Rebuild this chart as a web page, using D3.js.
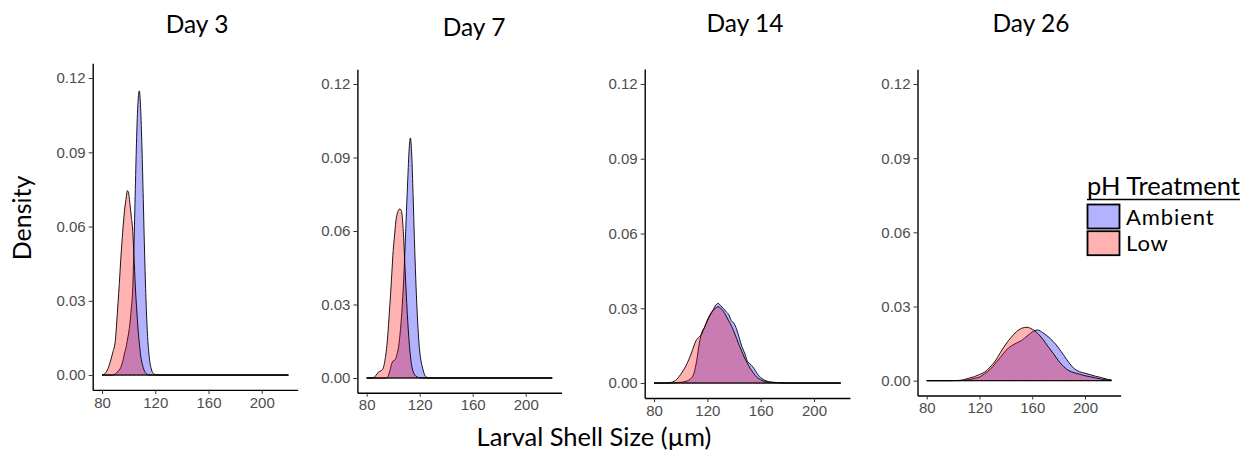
<!DOCTYPE html>
<html>
<head>
<meta charset="utf-8">
<script src="https://cdn.jsdelivr.net/npm/d3@7"></script>
<style>
  body { margin: 0; background: #fff; }
  svg { display: block; }
  .domain { stroke: #000; stroke-width: 1.4; }
  .lbl { font-family: Lato, "Open Sans", sans-serif; fill: #000; }
</style>
</head>
<body>
<div id="chart"></div>
<script>
// ---- data: density curves ----
const days = ["Day 3", "Day 7", "Day 14", "Day 26"];
const groups = ["Ambient", "Low"];
const xTicks = [80, 120, 160, 200];
const yTicks = [0, 0.03, 0.06, 0.09, 0.12];

const day3Size = [80, 82, 84, 86, 88, 90, 91, 92, 93, 94, 95, 96, 97, 98, 99, 100, 101, 102, 103, 104, 105, 106, 107, 108, 109, 110, 111, 112, 113, 114, 115, 116, 117, 118, 120, 124, 220];
const day3Ambient = [0, 0, 0, 0, 0, 0.0005, 0.001, 0.0015, 0.002, 0.003, 0.0045, 0.0065, 0.009, 0.011, 0.014, 0.017, 0.021, 0.027, 0.034, 0.052, 0.075, 0.096, 0.110, 0.1148, 0.108, 0.092, 0.071, 0.049, 0.031, 0.018, 0.010, 0.005, 0.0025, 0.001, 0.0002, 0, 0];
const day3Low = [0, 0.0005, 0.002, 0.005, 0.009, 0.014, 0.021, 0.029, 0.037, 0.046, 0.054, 0.061, 0.067, 0.071, 0.0745, 0.0735, 0.069, 0.064, 0.059, 0.048, 0.036, 0.027, 0.019, 0.013, 0.008, 0.005, 0.003, 0.0015, 0.0007, 0.0003, 0.0001, 0, 0, 0, 0, 0, 0];

const day7Size = [80, 84, 86, 88, 89, 90, 91, 92, 93, 94, 95, 96, 97, 98, 99, 100, 101, 102, 103, 104, 105, 106, 107, 108, 109, 110, 111, 112, 113, 114, 115, 116, 117, 118, 119, 120, 121, 122, 124, 126, 130, 220];
const day7Ambient = [0, 0, 0, 0, 0, 0, 0, 0, 0, 0, 0, 0.0005, 0.002, 0.004, 0.006, 0.007, 0.0073, 0.008, 0.010, 0.0125, 0.017, 0.023, 0.031, 0.041, 0.054, 0.068, 0.081, 0.093, 0.098, 0.091, 0.075, 0.057, 0.041, 0.028, 0.018, 0.011, 0.007, 0.0045, 0.001, 0.0002, 0, 0];
const day7Low = [0, 0, 0.0005, 0.0018, 0.0025, 0.0027, 0.003, 0.0035, 0.005, 0.008, 0.012, 0.018, 0.026, 0.034, 0.043, 0.052, 0.058, 0.064, 0.067, 0.0685, 0.069, 0.0685, 0.065, 0.056, 0.044, 0.033, 0.023, 0.015, 0.009, 0.005, 0.0027, 0.0015, 0.0008, 0.0004, 0.0002, 0.0001, 0, 0, 0, 0, 0, 0];

const day14Size = [80, 88, 92, 96, 100, 104, 108, 110, 112, 114, 116, 118, 120, 122, 124, 126, 128, 130, 132, 134, 136, 138, 140, 142, 144, 146, 148, 150, 152, 154, 156, 158, 160, 164, 168, 172, 180, 220];
const day14Ambient = [0, 0, 0, 0.0001, 0.0003, 0.0007, 0.002, 0.004, 0.009, 0.016, 0.0205, 0.0225, 0.025, 0.027, 0.029, 0.031, 0.032, 0.031, 0.030, 0.0287, 0.0275, 0.025, 0.024, 0.0215, 0.018, 0.0145, 0.012, 0.0088, 0.0077, 0.0066, 0.005, 0.0033, 0.0022, 0.0009, 0.0004, 0.0002, 0, 0];
const day14Low = [0, 0, 0.0002, 0.001, 0.0035, 0.007, 0.012, 0.015, 0.0175, 0.0185, 0.020, 0.0225, 0.0253, 0.0275, 0.029, 0.030, 0.0306, 0.030, 0.0288, 0.027, 0.025, 0.023, 0.0205, 0.0178, 0.015, 0.0125, 0.010, 0.008, 0.006, 0.0045, 0.003, 0.002, 0.0013, 0.0005, 0.0002, 0.0001, 0, 0];

const day26Size = [80, 96, 104, 108, 112, 116, 120, 124, 128, 132, 136, 140, 144, 148, 152, 156, 160, 164, 168, 172, 176, 180, 184, 188, 192, 196, 200, 204, 208, 212, 216, 220];
const day26Ambient = [0, 0, 0, 0.0001, 0.0004, 0.0009, 0.0015, 0.0028, 0.0045, 0.007, 0.0095, 0.0122, 0.014, 0.0152, 0.0163, 0.018, 0.0197, 0.0205, 0.0194, 0.0178, 0.0158, 0.0132, 0.0102, 0.0072, 0.0048, 0.0036, 0.003, 0.0024, 0.0018, 0.0013, 0.0007, 0.0003];
const day26Low = [0, 0, 0.0001, 0.0004, 0.001, 0.0016, 0.0025, 0.0035, 0.0055, 0.008, 0.0115, 0.0148, 0.0175, 0.0198, 0.0212, 0.0216, 0.0208, 0.0192, 0.0168, 0.0138, 0.011, 0.008, 0.0056, 0.004, 0.0032, 0.0026, 0.002, 0.0016, 0.0011, 0.0007, 0.0003, 0.0001];

// ---- layout (each facet sits a bit differently in the original) ----
const W = 1252, H = 455;
const boxes = [
  { left: 92.7, right: 297.7, top: 63.2, bottom: 389.9, tx: 197, ty: 33 },
  { left: 357.4, right: 561.5, top: 69.3, bottom: 392.7, tx: 474, ty: 36 },
  { left: 644.7, right: 850, top: 69, bottom: 398, tx: 745, ty: 32 },
  { left: 917.5, right: 1120.6, top: 69.2, bottom: 395.5, tx: 1031, ty: 32 }
];
const fills = { Ambient: "blue", Low: "red" };

const panels = [
  { size: day3Size, Ambient: day3Ambient, Low: day3Low },
  { size: day7Size, Ambient: day7Ambient, Low: day7Low },
  { size: day14Size, Ambient: day14Ambient, Low: day14Low },
  { size: day26Size, Ambient: day26Ambient, Low: day26Low }
];

const svg = d3.select("#chart").append("svg")
  .attr("width", W).attr("height", H);

function styleAxis(sel) {
  sel.selectAll(".tick text")
    .attr("font-family", "'Liberation Sans', Arial, sans-serif")
    .attr("font-size", 15)
    .attr("fill", "#4d4d4d");
  sel.selectAll(".tick line").attr("stroke", "#333");
}

panels.forEach((p, i) => {
  const b = boxes[i];
  // ggplot style 5% expansion
  const x = d3.scaleLinear().domain([73, 227]).range([b.left, b.right]);
  const y = d3.scaleLinear().domain([-0.006, 0.126]).range([b.bottom, b.top]);
  const g = svg.append("g");

  const area = d3.area()
    .x(d => x(d[0]))
    .y0(y(0))
    .y1(d => y(d[1]))
    .curve(d3.curveMonotoneX);

  groups.forEach(k => {
    const pts = p.size.map((s, j) => [s, p[k][j]]);
    g.append("path")
      .datum(pts)
      .attr("d", area)
      .attr("fill", fills[k])
      .attr("fill-opacity", 0.3)
      .attr("stroke", "#000")
      .attr("stroke-width", 0.9);
  });

  g.append("g")
    .attr("transform", `translate(0,${b.bottom})`)
    .call(d3.axisBottom(x).tickValues(xTicks).tickSize(4).tickSizeOuter(0).tickPadding(3))
    .call(styleAxis);
  g.append("g")
    .attr("transform", `translate(${b.left},0)`)
    .call(d3.axisLeft(y).tickValues(yTicks).tickFormat(d3.format(".2f")).tickSize(4).tickSizeOuter(0).tickPadding(3))
    .call(styleAxis);

  svg.append("text").attr("class", "lbl")
    .attr("x", b.tx).attr("y", b.ty)
    .attr("text-anchor", "middle")
    .style("font-size", "24.5px")
    .text(days[i]);
});

// axis titles
svg.append("text").attr("class", "lbl")
  .attr("transform", "translate(31,218) rotate(-90)")
  .attr("text-anchor", "middle")
  .style("font-size", "25px")
  .text("Density");

svg.append("text").attr("class", "lbl")
  .attr("x", 594).attr("y", 446)
  .attr("text-anchor", "middle")
  .style("font-size", "25.5px")
  .text("Larval Shell Size (µm)");

// legend
const leg = svg.append("g").attr("transform", "translate(1087,0)");
const title = leg.append("text").attr("class", "lbl")
  .attr("x", 0).attr("y", 195)
  .style("font-size", "25.5px")
  .text("pH Treatment");
const tw = title.node().getComputedTextLength();
leg.append("line")
  .attr("x1", 0).attr("x2", tw)
  .attr("y1", 199.5).attr("y2", 199.5)
  .attr("stroke", "#000").attr("stroke-width", 1.5);

groups.forEach((k, j) => {
  const yy = 204.5 + j * 26.7;
  leg.append("rect")
    .attr("x", 0.5).attr("y", yy)
    .attr("width", 32).attr("height", 24)
    .attr("fill", fills[k]).attr("fill-opacity", 0.3)
    .attr("stroke", "#000").attr("stroke-width", 1.8);
  leg.append("text").attr("class", "lbl")
    .attr("x", 39).attr("y", yy + 20)
    .style("font-size", "22px")
    .style("letter-spacing", "0.9px")
    .text(k);
});
</script>
</body>
</html>
